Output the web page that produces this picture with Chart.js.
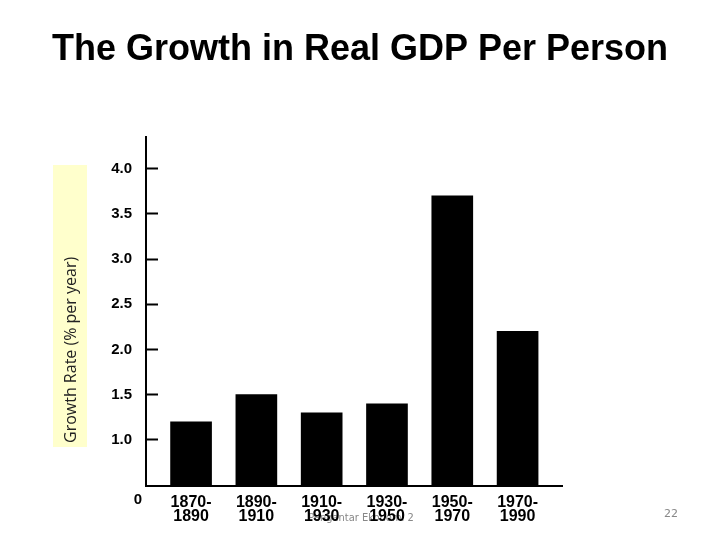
<!DOCTYPE html>
<html lang="en">
<head>
    <meta charset="UTF-8">
    <title>The Growth in Real GDP Per Person</title>
    <script src="https://cdn.jsdelivr.net/npm/chart.js"></script>
    <style>
        html, body { margin: 0; padding: 0; background: #fff; }
        #wrap { width: 720px; height: 540px; position: relative; }
    </style>
</head>
<body>
    <div id="wrap">
        <canvas id="grafico" width="720" height="540"></canvas>
    </div>

    <script>
        // dados
        const periodos = [['1870-', '1890'], ['1890-', '1910'], ['1910-', '1930'], ['1930-', '1950'], ['1950-', '1970'], ['1970-', '1990']];
        const crescimento = [1.2, 1.5, 1.3, 1.4, 3.7, 2.2];
        const yTicks = [1.0, 1.5, 2.0, 2.5, 3.0, 3.5, 4.0];
        const rotuloZero = '0';
        const tituloY = 'Growth Rate (% per year)';
        const rodape = 'Pengantar Ekonomi 2';
        const numeroSlide = '22';

        // caixa amarela do titulo do eixo, "0" do eixo quebrado e rodape
        const extras = {
            id: 'extras',
            beforeDraw(chart) {
                const ctx = chart.ctx;
                const area = chart.chartArea;
                ctx.save();
                ctx.fillStyle = '#ffffcc';
                ctx.fillRect(53, 165, 34, 282);

                ctx.translate(71, 443);
                ctx.rotate(-Math.PI / 2);
                ctx.fillStyle = '#222';
                ctx.font = '16px "Open Sans"';
                ctx.textAlign = 'left';
                ctx.textBaseline = 'middle';
                ctx.fillText(tituloY, 0, 0);
                ctx.restore();

                ctx.save();
                ctx.fillStyle = '#888';
                ctx.font = '11px "DejaVu Sans Condensed", "DejaVu Sans"';
                ctx.textAlign = 'center';
                ctx.textBaseline = 'middle';
                ctx.fillText(rodape, 361, 518);
                ctx.font = '11px "DejaVu Sans"';
                ctx.fillText(numeroSlide, 671, 514);

                ctx.fillStyle = '#000';
                ctx.font = 'bold 15px "Liberation Sans", Arial';
                ctx.textAlign = 'right';
                ctx.fillText(rotuloZero, area.left - 4, area.bottom + 14);
                ctx.restore();
            }
        };

        new Chart(document.getElementById('grafico'), {
            type: 'bar',
            data: {
                datasets: [{
                    data: crescimento.map((v, i) => ({ x: i, y: v })),
                    backgroundColor: '#000',
                    borderWidth: 0,
                    barThickness: 41
                }]
            },
            options: {
                responsive: false,
                animation: false,
                layout: { padding: 0 },
                plugins: {
                    legend: { display: false },
                    tooltip: { enabled: false },
                    title: {
                        display: true,
                        text: 'The Growth in Real GDP Per Person',
                        color: '#000',
                        font: { family: '"Liberation Sans", Arial', size: 36, weight: 'bold', lineHeight: 1.2 },
                        padding: { top: 28, bottom: 65.8 }
                    }
                },
                scales: {
                    x: {
                        type: 'linear',
                        offset: false,
                        min: -0.69,
                        max: 5.68,
                        afterBuildTicks: s => { s.ticks = periodos.map((p, i) => ({ value: i })); },
                        afterFit: s => { s.height = 54; },
                        grid: { display: false, drawTicks: false, offset: false },
                        border: { display: true, color: '#000', width: 2 },
                        ticks: {
                            autoSkip: false,
                            maxRotation: 0,
                            padding: 9,
                            color: '#000',
                            font: { family: '"Liberation Sans", Arial', size: 16, weight: 'bold', lineHeight: 0.9 },
                            callback: v => periodos[v]
                        }
                    },
                    y: {
                        min: 0.49,
                        max: 4.35,
                        afterBuildTicks: s => { s.ticks = yTicks.map(v => ({ value: v })); },
                        afterFit: s => { s.width = 146; },
                        grid: {
                            display: true,
                            drawOnChartArea: false,
                            drawTicks: true,
                            tickLength: -12,
                            tickColor: '#000',
                            tickWidth: 2
                        },
                        border: { display: true, color: '#000', width: 2 },
                        ticks: {
                            padding: 26,
                            color: '#000',
                            font: { family: '"Liberation Sans", Arial', size: 15, weight: 'bold' },
                            callback: v => v.toFixed(1)
                        }
                    },
                    // eixo vazio so para reservar a margem direita
                    direita: {
                        position: 'right',
                        display: true,
                        afterFit: s => { s.width = 158; },
                        grid: { display: false, drawTicks: false },
                        border: { display: false },
                        ticks: { display: false }
                    }
                }
            },
            plugins: [extras]
        });
    </script>
</body>
</html>
